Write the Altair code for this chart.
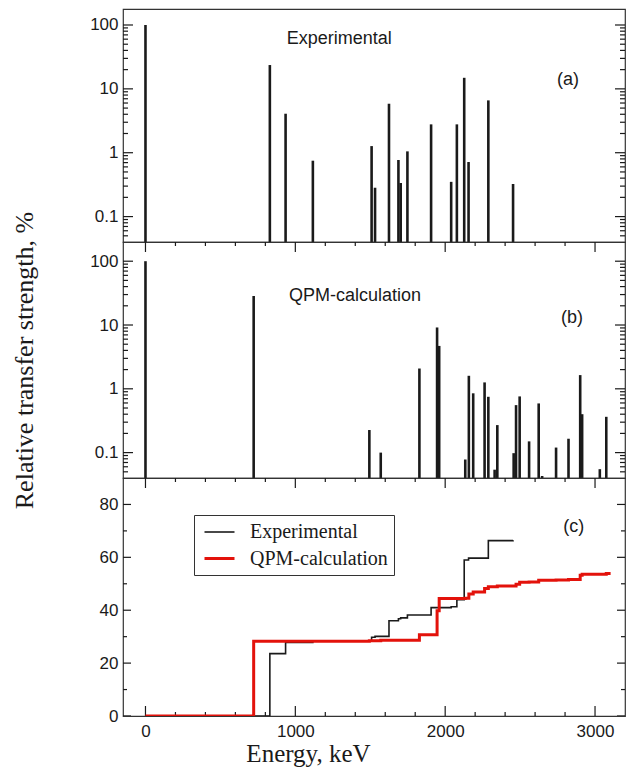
import altair as alt
import pandas as pd

# ---- data ----
exp_energy = [0, 830, 935, 1117, 1509, 1532, 1625, 1688, 1703, 1748, 1906, 2040, 2078, 2127, 2156, 2288, 2453]
exp_strength = [100, 23.6, 4.08, 0.75, 1.27, 0.283, 5.85, 0.77, 0.336, 1.05, 2.78, 0.35, 2.78, 14.9, 0.715, 6.6, 0.324]

qpm_energy = [0, 722, 1494, 1570, 1828, 1946, 1960, 2134, 2158, 2187, 2263, 2288, 2330, 2348, 2457,
              2473, 2497, 2560, 2624, 2647, 2740, 2823, 2901, 2914, 3032, 3075]
qpm_strength = [100, 28.5, 0.226, 0.10, 2.08, 9.15, 4.7, 0.078, 1.6, 0.85, 1.26, 0.75, 0.054, 0.27, 0.098,
                0.555, 0.76, 0.15, 0.59, 0.043, 0.12, 0.165, 1.64, 0.40, 0.055, 0.364]

exp_step_energy = [0, 830, 935, 1117, 1509, 1532, 1625, 1688, 1703, 1748, 1906, 2040, 2078, 2127, 2156, 2288, 2453]
exp_step_total = [0, 23.6, 27.8, 28.4, 29.8, 30.1, 36.0, 36.8, 37.1, 38.2, 41.0, 41.3, 44.0, 59.0, 59.7, 66.3, 66.5]

qpm_step_energy = [0, 722, 1494, 1570, 1828, 1946, 1960, 2134, 2158, 2187, 2263, 2288, 2348, 2473, 2497,
                   2560, 2624, 2740, 2823, 2901, 2914, 3075, 3104]
qpm_step_total = [0, 28.3, 28.5, 28.6, 30.7, 39.8, 44.4, 44.5, 46.1, 46.9, 48.2, 48.9, 49.2, 49.8, 50.6,
                  50.7, 51.3, 51.4, 51.6, 53.2, 53.6, 53.9, 53.9]

series_names = ["Experimental", "QPM-calculation"]
x_major_values = [0, 1000, 2000, 3000]
x_minor_values = [200, 400, 600, 800, 1200, 1400, 1600, 1800, 2200, 2400, 2600, 2800]
log_major_values = [0.1, 1, 10, 100]
log_minor_values = [0.05, 0.06, 0.07, 0.08, 0.09, 0.2, 0.3, 0.4, 0.5, 0.6, 0.7, 0.8, 0.9,
                    2, 3, 4, 5, 6, 7, 8, 9, 20, 30, 40, 50, 60, 70, 80, 90]
lin_major_values = [0, 20, 40, 60, 80]
lin_minor_values = [10, 30, 50, 70]

df_exp = pd.DataFrame({"E": exp_energy, "S": exp_strength})
df_qpm = pd.DataFrame({"E": qpm_energy, "S": qpm_strength})
df_steps = pd.concat([
    pd.DataFrame({"E": exp_step_energy, "T": exp_step_total, "series": series_names[0]}),
    pd.DataFrame({"E": qpm_step_energy, "T": qpm_step_total, "series": series_names[1]}),
])

# ---- style ----
W = 502
H_A, H_B, H_C = 233, 236, 238
X_DOM = [-150, 3200]
SANS = "Liberation Sans"
SERIF = "Liberation Serif"
INK = "#1a1a1a"
RED = "#e3120b"


def label_axis(orient, values, **kw):
    return alt.Axis(orient=orient, values=values, ticks=False, domain=False, grid=False,
                    labelFont=SANS, labelFontSize=17, labelColor=INK, labelOverlap=False,
                    labelFlush=False, **kw)


one = alt.Data(values=[{}])


class Panel:
    """Holds the shared scales and axes of one panel so every layer repeats them identically."""

    def __init__(self, xs, ys, xaxis, yaxis):
        self.xs, self.ys, self.xaxis, self.yaxis = xs, ys, xaxis, yaxis

    def X(self, field=None, datum=None):
        if field is not None:
            return alt.X(field, scale=self.xs, axis=self.xaxis)
        return alt.X(datum=datum, type="quantitative", scale=self.xs, axis=self.xaxis)

    def Y(self, field=None, datum=None):
        if field is not None:
            return alt.Y(field, scale=self.ys, axis=self.yaxis)
        return alt.Y(datum=datum, type="quantitative", scale=self.ys, axis=self.yaxis)

    def note(self, text, x, y, align):
        return alt.Chart(one).mark_text(text=text, font=SANS, fontSize=18, color=INK,
                                        align=align, baseline="alphabetic").encode(
            x=self.X(datum=x), y=self.Y(datum=y))

    def y_ticks(self, values, edge, length):
        # inward tick: centred on the frame edge and clipped to the plot area
        return alt.Chart(pd.DataFrame({"v": values})).mark_tick(
            orient="horizontal", color=INK, opacity=1, thickness=1.2, size=2 * length, clip=True
        ).encode(y=self.Y("v:Q"), x=self.X(datum=edge))

    def x_ticks(self, values, edge, length):
        return alt.Chart(pd.DataFrame({"v": values})).mark_tick(
            orient="vertical", color=INK, opacity=1, thickness=1.2, size=2 * length, clip=True
        ).encode(x=self.X("v:Q"), y=self.Y(datum=edge))

    def frame(self, ydom, ymajor, yminor, ymaj_len, ymin_len, top=True, bottom=False):
        out = [
            self.y_ticks(ymajor, X_DOM[0], ymaj_len),
            self.y_ticks(yminor, X_DOM[0], ymin_len),
            self.y_ticks(ymajor, X_DOM[1], ymaj_len),
            self.y_ticks(yminor, X_DOM[1], ymin_len),
        ]
        if top:
            out += [self.x_ticks(x_major_values, ydom[1], 10),
                    self.x_ticks(x_minor_values, ydom[1], 4)]
        if bottom:
            out += [self.x_ticks(x_major_values, ydom[0], 10),
                    self.x_ticks(x_minor_values, ydom[0], 4)]
        return out


def log_panel(df, dom, h, name, name_pos, tag, tag_pos, top_ticks, ytitle=None):
    xs = alt.Scale(domain=X_DOM, nice=False, zero=False)
    ys = alt.Scale(type="log", domain=dom, nice=False)
    if ytitle:
        extra = dict(title=ytitle, titleFont=SERIF, titleFontSize=26, titleFontWeight="normal",
                     titleColor=INK, titlePadding=52)
    else:
        extra = dict(title=None)
    yaxis = label_axis("left", log_major_values, format="~g", labelPadding=5, **extra)
    p = Panel(xs, ys, None, yaxis)
    bars = alt.Chart(df).mark_rule(color=INK, strokeWidth=2.6, clip=True).encode(
        x=p.X("E:Q"), y=p.Y("S:Q"), y2=alt.Y2(datum=dom[0]))
    layers = p.frame(dom, log_major_values, log_minor_values, 10, 5, top=top_ticks) + [
        bars,
        p.note(name, name_pos[0], name_pos[1], "left"),
        p.note(tag, tag_pos[0], tag_pos[1], "center"),
    ]
    return alt.layer(*layers).properties(width=W, height=h)


pa = log_panel(df_exp, [0.04, 178], H_A, "Experimental", (943, 50), "(a)", (2819, 11.5), False)
pb = log_panel(df_qpm, [0.04, 200], H_B, "QPM-calculation", (957, 23.6), "(b)", (2847, 10.7), True,
               ytitle="Relative transfer strength, %")

xs_c = alt.Scale(domain=X_DOM, nice=False, zero=False)
ys_c = alt.Scale(domain=[0, 90], nice=False, zero=False)
xaxis_c = label_axis("bottom", x_major_values, format="d", labelPadding=7, title="Energy, keV",
                     titleFont=SERIF, titleFontSize=25, titleFontWeight="normal",
                     titleColor=INK, titlePadding=2, titleX=185)
yaxis_c = label_axis("left", lin_major_values, labelPadding=5, title=None)
pcp = Panel(xs_c, ys_c, xaxis_c, yaxis_c)
lines = alt.Chart(df_steps).mark_line(interpolate="step-after", clip=True).encode(
    x=pcp.X("E:Q"),
    y=pcp.Y("T:Q"),
    color=alt.Color("series:N", scale=alt.Scale(domain=series_names, range=[INK, RED]),
                    legend=alt.Legend(orient="none", legendX=71, legendY=506, title=None,
                                      fillColor="white", strokeColor="#333", padding=6,
                                      symbolType="M-1.5,0H1.5", symbolSize=400,
                                      symbolStrokeWidth=2.5, symbolOffset=8, labelOffset=19,
                                      rowPadding=5, labelFont=SERIF, labelFontSize=20,
                                      labelColor=INK)),
    strokeWidth=alt.StrokeWidth("series:N", scale=alt.Scale(domain=series_names, range=[1.6, 3.0]),
                                legend=None),
)
c_layers = pcp.frame([0, 90], lin_major_values, lin_minor_values, 8, 4, top=True, bottom=True) + [
    lines, pcp.note("(c)", 2858, 69.7, "center")]
pc = alt.layer(*c_layers).properties(width=W, height=H_C)

chart = alt.vconcat(pa, pb, pc, spacing=0, bounds="flush").properties(
    padding={"left": 3, "top": 0, "right": 5, "bottom": 0}
).configure_view(stroke="#333", strokeWidth=1.2)

chart.save("out.html", embed_options={"renderer": "svg", "actions": False})
